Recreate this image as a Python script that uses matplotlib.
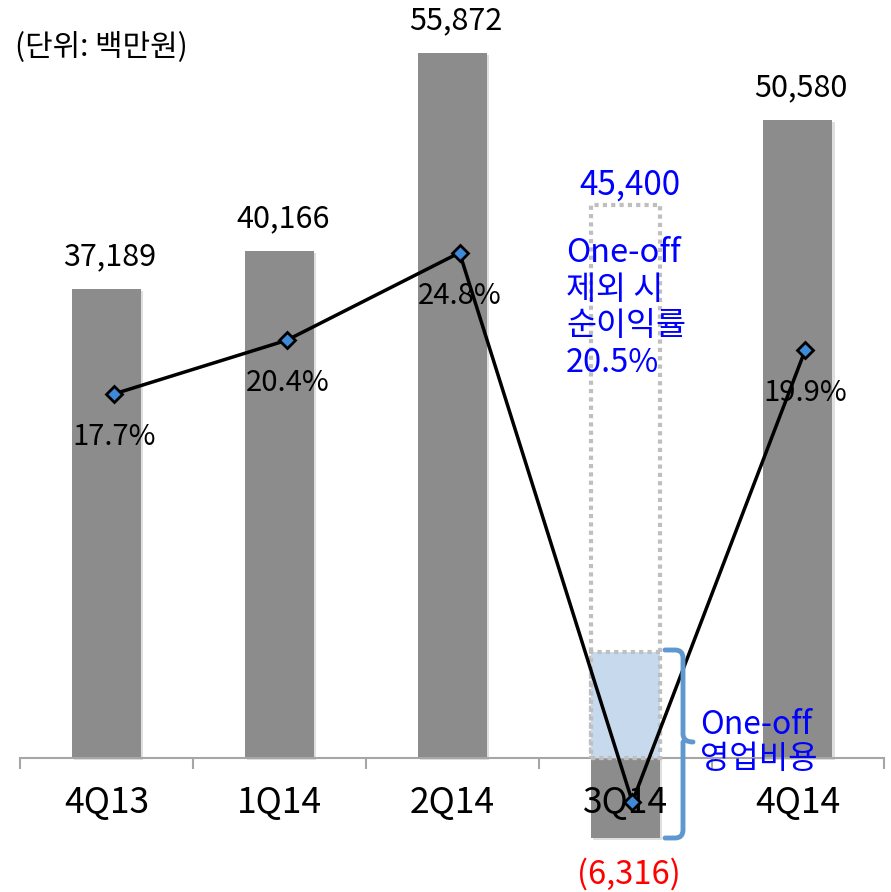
import matplotlib
matplotlib.use("Agg")
import matplotlib.pyplot as plt
import matplotlib.patheffects as pe
from matplotlib.patches import Rectangle, PathPatch
from matplotlib.path import Path
import numpy as np

plt.rcParams['font.family'] = ['Noto Sans CJK KR', 'DejaVu Sans']

# 데이터
quarters = ["4Q13", "1Q14", "2Q14", "3Q14", "4Q14"]
net_income = [37189, 40166, 55872, -6316, 50580]
income_labels = ["37,189", "40,166", "55,872", "(6,316)", "50,580"]
net_margin = [17.7, 20.4, 24.8, -2.8, 19.9]
margin_labels = ["17.7%", "20.4%", "24.8%", "", "19.9%"]

# 3Q14 One-off 보조 상자
adj_box_top = 43800
oneoff_box_top = 8400
adj_income_label = "45,400"
adj_margin_text = "One-off\n제외 시\n순이익률\n20.5%"
oneoff_text = "One-off\n영업비용"

W, H = 891, 892
fig = plt.figure(figsize=(W / 100, H / 100), dpi=100)
ax = fig.add_axes([20.3 / W, 0, 864 / W, 1])
ax2 = ax.twinx()

x = np.arange(len(quarters))

# 막대
bars = ax.bar(x, net_income, width=0.40, color="#8c8c8c", zorder=2)
for b in bars:
    b.set_path_effects([pe.SimplePatchShadow(offset=(1.5, -1.5), alpha=0.15), pe.Normal()])

ax.set_xlim(-0.5, 4.5)
ax.set_ylim(-10620, 60073)

# 3Q14 점선 상자들
i3 = 3
ax.add_patch(Rectangle((i3 - 0.2, 0), 0.4, adj_box_top, fill=False,
                       edgecolor="#bfbfbf", lw=3, linestyle=(0, (1, 1)), zorder=3))
ax.add_patch(Rectangle((i3 - 0.2, 0), 0.4, oneoff_box_top, facecolor="#c6d9ed",
                       edgecolor="#bfbfbf", lw=3, linestyle=(0, (1, 1)), zorder=3))

# 막대 값 레이블
for i, v in enumerate(net_income):
    if v >= 0:
        ax.annotate(income_labels[i], (x[i] + 0.02, v), xytext=(0, 23),
                    textcoords="offset points", ha="center", va="center",
                    fontsize=22, color="black", zorder=6)
    else:
        ax.annotate(income_labels[i], (x[i] + 0.02, v), xytext=(0, -26),
                    textcoords="offset points", ha="center", va="center",
                    fontsize=23.5, color="red", zorder=6)

# 범주 레이블
for i, q in enumerate(quarters):
    ax.text(x[i], -3600, q, ha="center", va="center", fontsize=25.5, zorder=4)

# 축 스타일
for s in ["top", "left", "right"]:
    ax.spines[s].set_visible(False)
    ax2.spines[s].set_visible(False)
ax2.spines["bottom"].set_visible(False)
ax.spines["bottom"].set_position(("data", 0))
ax.spines["bottom"].set_color("#a6a6a6")
ax.spines["bottom"].set_linewidth(1.5)
ax.set_xticks(np.arange(-0.5, 5, 1))
ax.set_xticklabels([])
ax.tick_params(axis="x", direction="out", length=8, width=1.5, color="#a6a6a6")
ax.set_yticks([])
ax2.set_yticks([])

# 순이익률 선
ax2.set_ylim(-7.33, 37.5)
ax2.plot(x + 0.042, net_margin, color="black", lw=2.5, marker="D", markersize=8,
         markerfacecolor="#3f8ad8", markeredgecolor="black", markeredgewidth=2,
         zorder=5)
for i, m in enumerate(net_margin):
    if margin_labels[i]:
        ax2.annotate(margin_labels[i], (x[i] + 0.045, m), xytext=(0, -31),
                     textcoords="offset points", ha="center", va="center",
                     fontsize=21, color="black", zorder=6)

# 주석 텍스트
fig.text(15 / W, 1 - 47 / H, "(단위: 백만원)", ha="left", va="center", fontsize=21.5)
ax.text(i3 + 0.03, 45400, adj_income_label, ha="center", va="center",
        fontsize=24, color="#0000ff")
fig.text(566 / W, 1 - 308 / H, adj_margin_text, ha="left", va="center",
         fontsize=23.5, color="#0000ff", linespacing=1.2)
fig.text(700 / W, 1 - 742 / H, oneoff_text, ha="left", va="center",
         fontsize=23, color="#0000ff", linespacing=1.1)

# 중괄호
bx0, bx1, btip = 665 / W, 683 / W, 693 / W
by_top, by_bot, by_mid = 1 - 650 / H, 1 - 838 / H, 1 - 742 / H
r = 8 / H
rx = 8 / W
verts = [
    (bx0, by_top), (bx1 - rx, by_top), (bx1, by_top), (bx1, by_top - r),
    (bx1, by_mid + r), (bx1, by_mid), (btip, by_mid),
    (bx1, by_mid), (bx1, by_mid - r),
    (bx1, by_bot + r), (bx1, by_bot), (bx1 - rx, by_bot), (bx0, by_bot),
]
codes = [Path.MOVETO, Path.LINETO, Path.CURVE3, Path.CURVE3,
         Path.LINETO, Path.CURVE3, Path.CURVE3,
         Path.MOVETO, Path.LINETO,
         Path.LINETO, Path.CURVE3, Path.CURVE3, Path.LINETO]
fig.patches.append(PathPatch(Path(verts, codes), transform=fig.transFigure,
                             fill=False, edgecolor="#5f97cf", lw=3.5,
                             capstyle="round", joinstyle="round"))

fig.savefig("out.png", dpi=100)
